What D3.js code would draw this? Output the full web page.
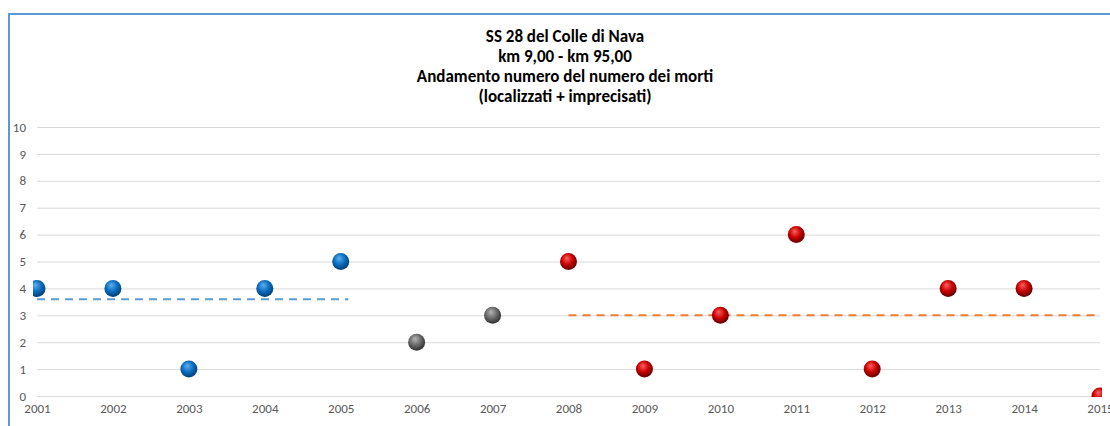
<!DOCTYPE html>
<html>
<head>
<meta charset="utf-8">
<script src="https://cdn.jsdelivr.net/npm/d3@7"></script>
<style>
  body { margin: 0; background: #fff; }
  #graf { width: 1110px; height: 426px; overflow: hidden; }
</style>
</head>
<body>
<div id="graf"></div>
<script>
const anni = [2001, 2002, 2003, 2004, 2005, 2006, 2007, 2008, 2009, 2010, 2011, 2012, 2013, 2014, 2015]
const morti = [4, 4, 1, 4, 5, 2, 3, 5, 1, 3, 6, 1, 4, 4, 0]
// gruppo di ogni punto: 0 = primo periodo, 1 = intermedio, 2 = secondo periodo
const gruppi = [0, 0, 0, 0, 0, 1, 1, 2, 2, 2, 2, 2, 2, 2, 2]
const yTicks = [0, 1, 2, 3, 4, 5, 6, 7, 8, 9, 10]
const titolo = ['SS 28 del Colle di Nava', 'km 9,00 - km 95,00', 'Andamento numero del numero dei morti', '(localizzati + imprecisati)']
// medie dei due periodi
const medie = [
  { da: 2001, a: 2005.1, valore: 3.6, colore: '#5b9bd5' },
  { da: 2008, a: 2015, valore: 3, colore: '#ed7d31' },
]

const anchoTotal = 1110
const altoTotal = 426
const fonte = 'Carlito, Calibri, "Liberation Sans", sans-serif'

const svg = d3.select('#graf').append('svg')
    .attr('width', anchoTotal)
    .attr('height', altoTotal)
    .style('font-family', fonte)

const x = d3.scaleLinear().domain([2001, 2015]).range([37, 1100])
const y = d3.scaleLinear().domain([0, 10]).range([396, 127])

// cornice
svg.append('rect')
    .attr('x', 9).attr('y', 14)
    .attr('width', 1300).attr('height', 600)
    .attr('fill', '#fff')
    .attr('stroke', '#5b9bd5')
    .attr('stroke-width', 2)

// titolo
svg.append('g').selectAll('text')
    .data(titolo)
    .join('text')
    .attr('x', 565)
    .attr('y', (d, i) => 41.5 + i * 20.3)
    .attr('text-anchor', 'middle')
    .attr('font-size', 17)
    .attr('font-weight', 'bold')
    .attr('fill', '#000')
    .text(d => d)

// griglia e asse y
const yAxis = d3.axisLeft(y).tickValues(yTicks).tickSize(-(1100 - 37)).tickPadding(11)
svg.append('g')
    .attr('transform', `translate(37,0)`)
    .call(yAxis)
    .call(g => g.select('.domain').remove())
    .call(g => g.selectAll('line').attr('stroke', '#d9d9d9'))
    .call(g => g.selectAll('text').attr('fill', '#595959').attr('font-size', 13).attr('font-family', fonte))

// asse x
const xAxis = d3.axisBottom(x).tickValues(anni).tickFormat(d3.format('d')).tickSize(0).tickPadding(8)
svg.append('g')
    .attr('transform', `translate(0,396)`)
    .call(xAxis)
    .call(g => g.select('.domain').remove())
    .call(g => g.selectAll('text').attr('fill', '#595959').attr('font-size', 13).attr('font-family', fonte))

// sfumature per le sfere
const defs = svg.append('defs')
const sfere = [
  { id: 'sfBlu', chiaro: '#5fb0f0', medio: '#0a6ec0', scuro: '#043d73' },
  { id: 'sfGrigio', chiaro: '#b5b5b5', medio: '#6a6a6a', scuro: '#303030' },
  { id: 'sfRosso', chiaro: '#ff6060', medio: '#c80000', scuro: '#600000' },
]
sfere.forEach(s => {
  const gr = defs.append('radialGradient').attr('id', s.id)
      .attr('cx', '45%').attr('cy', '40%').attr('r', '60%').attr('fx', '40%').attr('fy', '30%')
  gr.append('stop').attr('offset', '0%').attr('stop-color', s.chiaro)
  gr.append('stop').attr('offset', '55%').attr('stop-color', s.medio)
  gr.append('stop').attr('offset', '100%').attr('stop-color', s.scuro)
})
defs.append('clipPath').attr('id', 'clipPlot')
    .append('rect').attr('x', 33).attr('y', 110).attr('width', 1102 - 33).attr('height', 397 - 110)

const plot = svg.append('g').attr('clip-path', 'url(#clipPlot)')

// linee medie
plot.selectAll('line.media')
    .data(medie)
    .join('line')
    .attr('class', 'media')
    .attr('x1', d => x(d.da)).attr('x2', d => x(d.a))
    .attr('y1', d => y(d.valore)).attr('y2', d => y(d.valore))
    .attr('stroke', d => d.colore)
    .attr('stroke-width', 2)
    .attr('stroke-dasharray', '8,6')

// punti
plot.selectAll('circle')
    .data(anni)
    .join('circle')
    .attr('cx', d => x(d))
    .attr('cy', (d, i) => y(morti[i]))
    .attr('r', 8.5)
    .attr('fill', (d, i) => `url(#${sfere[gruppi[i]].id})`)
</script>
</body>
</html>
